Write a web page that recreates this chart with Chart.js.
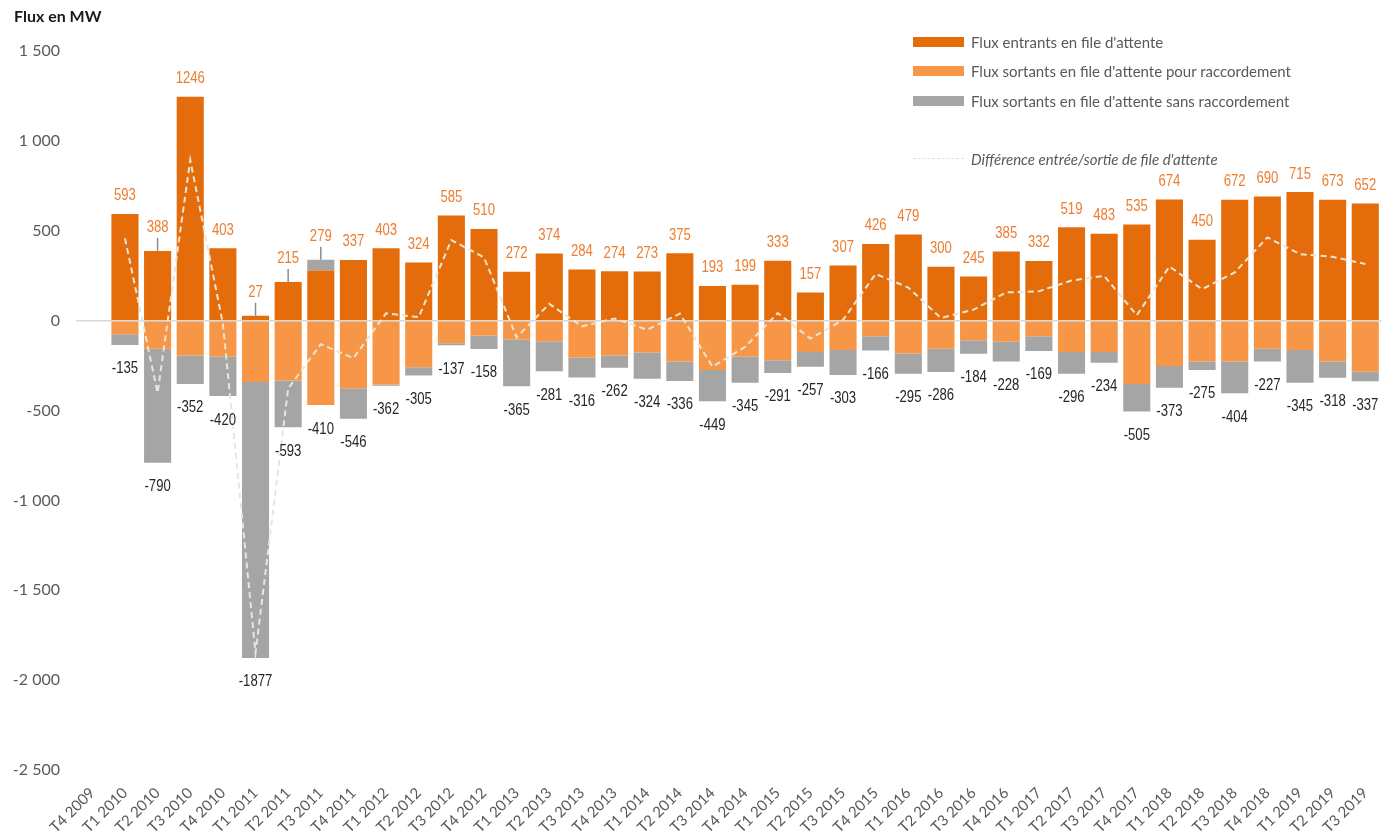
<!DOCTYPE html>
<html lang="fr">
<head>
<meta charset="utf-8">
<title>Flux en MW</title>
<script src="https://cdn.jsdelivr.net/npm/chart.js@4.4.1/dist/chart.umd.min.js"></script>
<style>
    html, body { margin: 0; padding: 0; background: #fff; }
    #wrap { position: relative; width: 1384px; height: 836px; }
    #title { position: absolute; left: 14px; top: 6px; font: bold 16px Lato, sans-serif; color: #1a1a1a; }
    #legend { position: absolute; left: 913px; top: 27px; font: 15px Lato, sans-serif; color: #595959; }
    .item { display: flex; align-items: center; height: 29.5px; white-space: nowrap; }
    .swatch { width: 51px; height: 10px; margin-right: 7px; }
    .dash { width: 51px; height: 0; border-top: 1.5px dashed #e6e3d6; margin-right: 7px; }
    .spacer { height: 28.5px; }
    .italic { font-style: italic; }
</style>
</head>
<body>
<div id="wrap">
    <canvas id="chart" width="1384" height="836"></canvas>
    <div id="title">Flux en MW</div>
    <div id="legend">
        <div class="item"><span class="swatch" style="background:#e46c0a"></span>Flux entrants en file d'attente</div>
        <div class="item"><span class="swatch" style="background:#f79646"></span>Flux sortants en file d'attente pour raccordement</div>
        <div class="item"><span class="swatch" style="background:#a5a5a5"></span>Flux sortants en file d'attente sans raccordement</div>
        <div class="spacer"></div>
        <div class="item italic"><span class="dash"></span>Différence entrée/sortie de file d'attente</div>
    </div>
</div>
<script>
// --- Data (MW) ---
const categories = [
    'T4 2009',
    'T1 2010', 'T2 2010', 'T3 2010', 'T4 2010',
    'T1 2011', 'T2 2011', 'T3 2011', 'T4 2011',
    'T1 2012', 'T2 2012', 'T3 2012', 'T4 2012',
    'T1 2013', 'T2 2013', 'T3 2013', 'T4 2013',
    'T1 2014', 'T2 2014', 'T3 2014', 'T4 2014',
    'T1 2015', 'T2 2015', 'T3 2015', 'T4 2015',
    'T1 2016', 'T2 2016', 'T3 2016', 'T4 2016',
    'T1 2017', 'T2 2017', 'T3 2017', 'T4 2017',
    'T1 2018', 'T2 2018', 'T3 2018', 'T4 2018',
    'T1 2019', 'T2 2019', 'T3 2019'
];
const fluxEntrants = [null,
    593, 388, 1246, 403, 27, 215, 279, 337, 403, 324,
    585, 510, 272, 374, 284, 274, 273, 375, 193, 199,
    333, 157, 307, 426, 479, 300, 245, 385, 332, 519,
    483, 535, 674, 450, 672, 690, 715, 673, 652];
const sortantsRaccordement = [null,
    -76, -157, -194, -200, -342, -333, -470, -376, -355, -259,
    -126, -83, -105, -115, -205, -194, -178, -228, -274, -200,
    -220, -174, -163, -87, -183, -157, -109, -117, -87, -174,
    -174, -353, -253, -228, -228, -157, -163, -228, -285];
const sortantsSansRaccordement = [null,
    -59, -633, -158, -220, -1535, -260, 60, -170, -7, -46,
    -11, -75, -260, -166, -111, -68, -146, -108, -175, -145,
    -71, -83, -140, -79, -112, -129, -75, -111, -82, -122,
    -60, -152, -120, -47, -176, -70, -182, -90, -52];
const totalSortants = [null,
    -135, -790, -352, -420, -1877, -593, -410, -546, -362, -305,
    -137, -158, -365, -281, -316, -262, -324, -336, -449, -345,
    -291, -257, -303, -166, -295, -286, -184, -228, -169, -296,
    -234, -505, -373, -275, -404, -227, -345, -318, -337];
const difference = [null,
    458, -402, 894, -17, -1850, -378, -131, -209, 41, 19,
    448, 352, -93, 93, -32, 12, -51, 39, -256, -146,
    42, -100, 4, 260, 184, 14, 61, 157, 163, 223,
    249, 30, 301, 175, 268, 463, 370, 355, 315];
const yTicks = [-2500, -2000, -1500, -1000, -500, 0, 500, 1000, 1500];

// labels that Excel pushed up with a leader line
const avecRenvoi = [2, 5, 6, 7];

// "1 500" style numbers
const formatMW = v => {
    const s = String(Math.abs(v)).replace(/\B(?=(\d{3})+(?!\d))/g, ' ');
    return (v < 0 ? '-' : '') + s;
};

// narrow-looking text (no Arial Narrow available)
const narrowText = (ctx, text, x, y) => {
    ctx.save();
    ctx.translate(x, y);
    ctx.scale(0.82, 1);
    ctx.fillText(text, 0, 0);
    ctx.restore();
};

// Value labels above / below each bar
const etiquettesPlugin = {
    id: 'etiquettes',
    afterDatasetsDraw(chart) {
        const { ctx } = chart;
        const y = chart.scales.y;
        const meta = chart.getDatasetMeta(0);
        ctx.save();
        ctx.font = '16px "Liberation Sans", Arial, sans-serif';
        ctx.textAlign = 'center';
        ctx.textBaseline = 'middle';

        categories.forEach((c, i) => {
            if (fluxEntrants[i] === null) return;
            const x = meta.data[i].x;

            // top label (flux entrants)
            const yTop = y.getPixelForValue(fluxEntrants[i] + Math.max(0, sortantsSansRaccordement[i]));
            const lift = avecRenvoi.includes(i) ? 23 : 18;
            ctx.fillStyle = '#ed7d31';
            narrowText(ctx, String(fluxEntrants[i]), x, yTop - lift);
            if (avecRenvoi.includes(i)) {
                ctx.strokeStyle = '#8c8c8c';
                ctx.lineWidth = 1.5;
                ctx.beginPath();
                ctx.moveTo(x, yTop - lift + 10);
                ctx.lineTo(x, yTop);
                ctx.stroke();
            }

            // bottom label (total sortants)
            const yBottom = y.getPixelForValue(sortantsRaccordement[i] + Math.min(0, sortantsSansRaccordement[i]));
            ctx.fillStyle = '#262626';
            narrowText(ctx, String(totalSortants[i]), x, yBottom + 24);
        });
        ctx.restore();
    }
};

new Chart(document.getElementById('chart'), {
    data: {
        labels: categories,
        datasets: [
            {
                type: 'line',
                label: "Différence entrée/sortie de file d'attente",
                data: difference,
                borderColor: '#e9e6d8',
                borderWidth: 2,
                borderDash: [6, 4],
                pointRadius: 0,
                tension: 0,
                stack: 'diff',
                order: 0
            },
            {
                type: 'bar',
                label: "Flux entrants en file d'attente",
                data: fluxEntrants,
                backgroundColor: '#e46c0a',
                stack: 'flux',
                order: 1
            },
            {
                type: 'bar',
                label: "Flux sortants en file d'attente pour raccordement",
                data: sortantsRaccordement,
                backgroundColor: '#f79646',
                stack: 'flux',
                order: 1
            },
            {
                type: 'bar',
                label: "Flux sortants en file d'attente sans raccordement",
                data: sortantsSansRaccordement,
                backgroundColor: '#a5a5a5',
                stack: 'flux',
                order: 1
            }
        ]
    },
    options: {
        responsive: false,
        devicePixelRatio: 1,
        animation: false,
        datasets: {
            bar: {
                categoryPercentage: 0.83,
                barPercentage: 1.0
            }
        },
        layout: {
            padding: { top: 51, left: 0, right: 0, bottom: 0 }
        },
        plugins: {
            legend: { display: false },
            tooltip: { enabled: false }
        },
        scales: {
            x: {
                stacked: true,
                grid: { display: false },
                border: { display: false },
                ticks: {
                    autoSkip: false,
                    minRotation: 45,
                    maxRotation: 45,
                    padding: 6,
                    color: '#595959',
                    font: { family: 'Lato', size: 15 }
                },
                afterFit: scale => { scale.height = 66; }
            },
            y: {
                stacked: true,
                min: -2500,
                max: 1500,
                afterBuildTicks: scale => {
                    scale.ticks = yTicks.map(v => ({ value: v }));
                },
                grid: {
                    drawTicks: false,
                    lineWidth: 1.5,
                    color: ctx => (ctx.tick && ctx.tick.value === 0) ? '#d9d9d9' : 'rgba(0,0,0,0)'
                },
                border: { display: false },
                ticks: {
                    padding: 16,
                    color: '#595959',
                    font: { family: 'Lato', size: 16 },
                    callback: value => formatMW(value)
                },
                afterFit: scale => { scale.width = 76; }
            }
        }
    },
    plugins: [etiquettesPlugin]
});
</script>
</body>
</html>
